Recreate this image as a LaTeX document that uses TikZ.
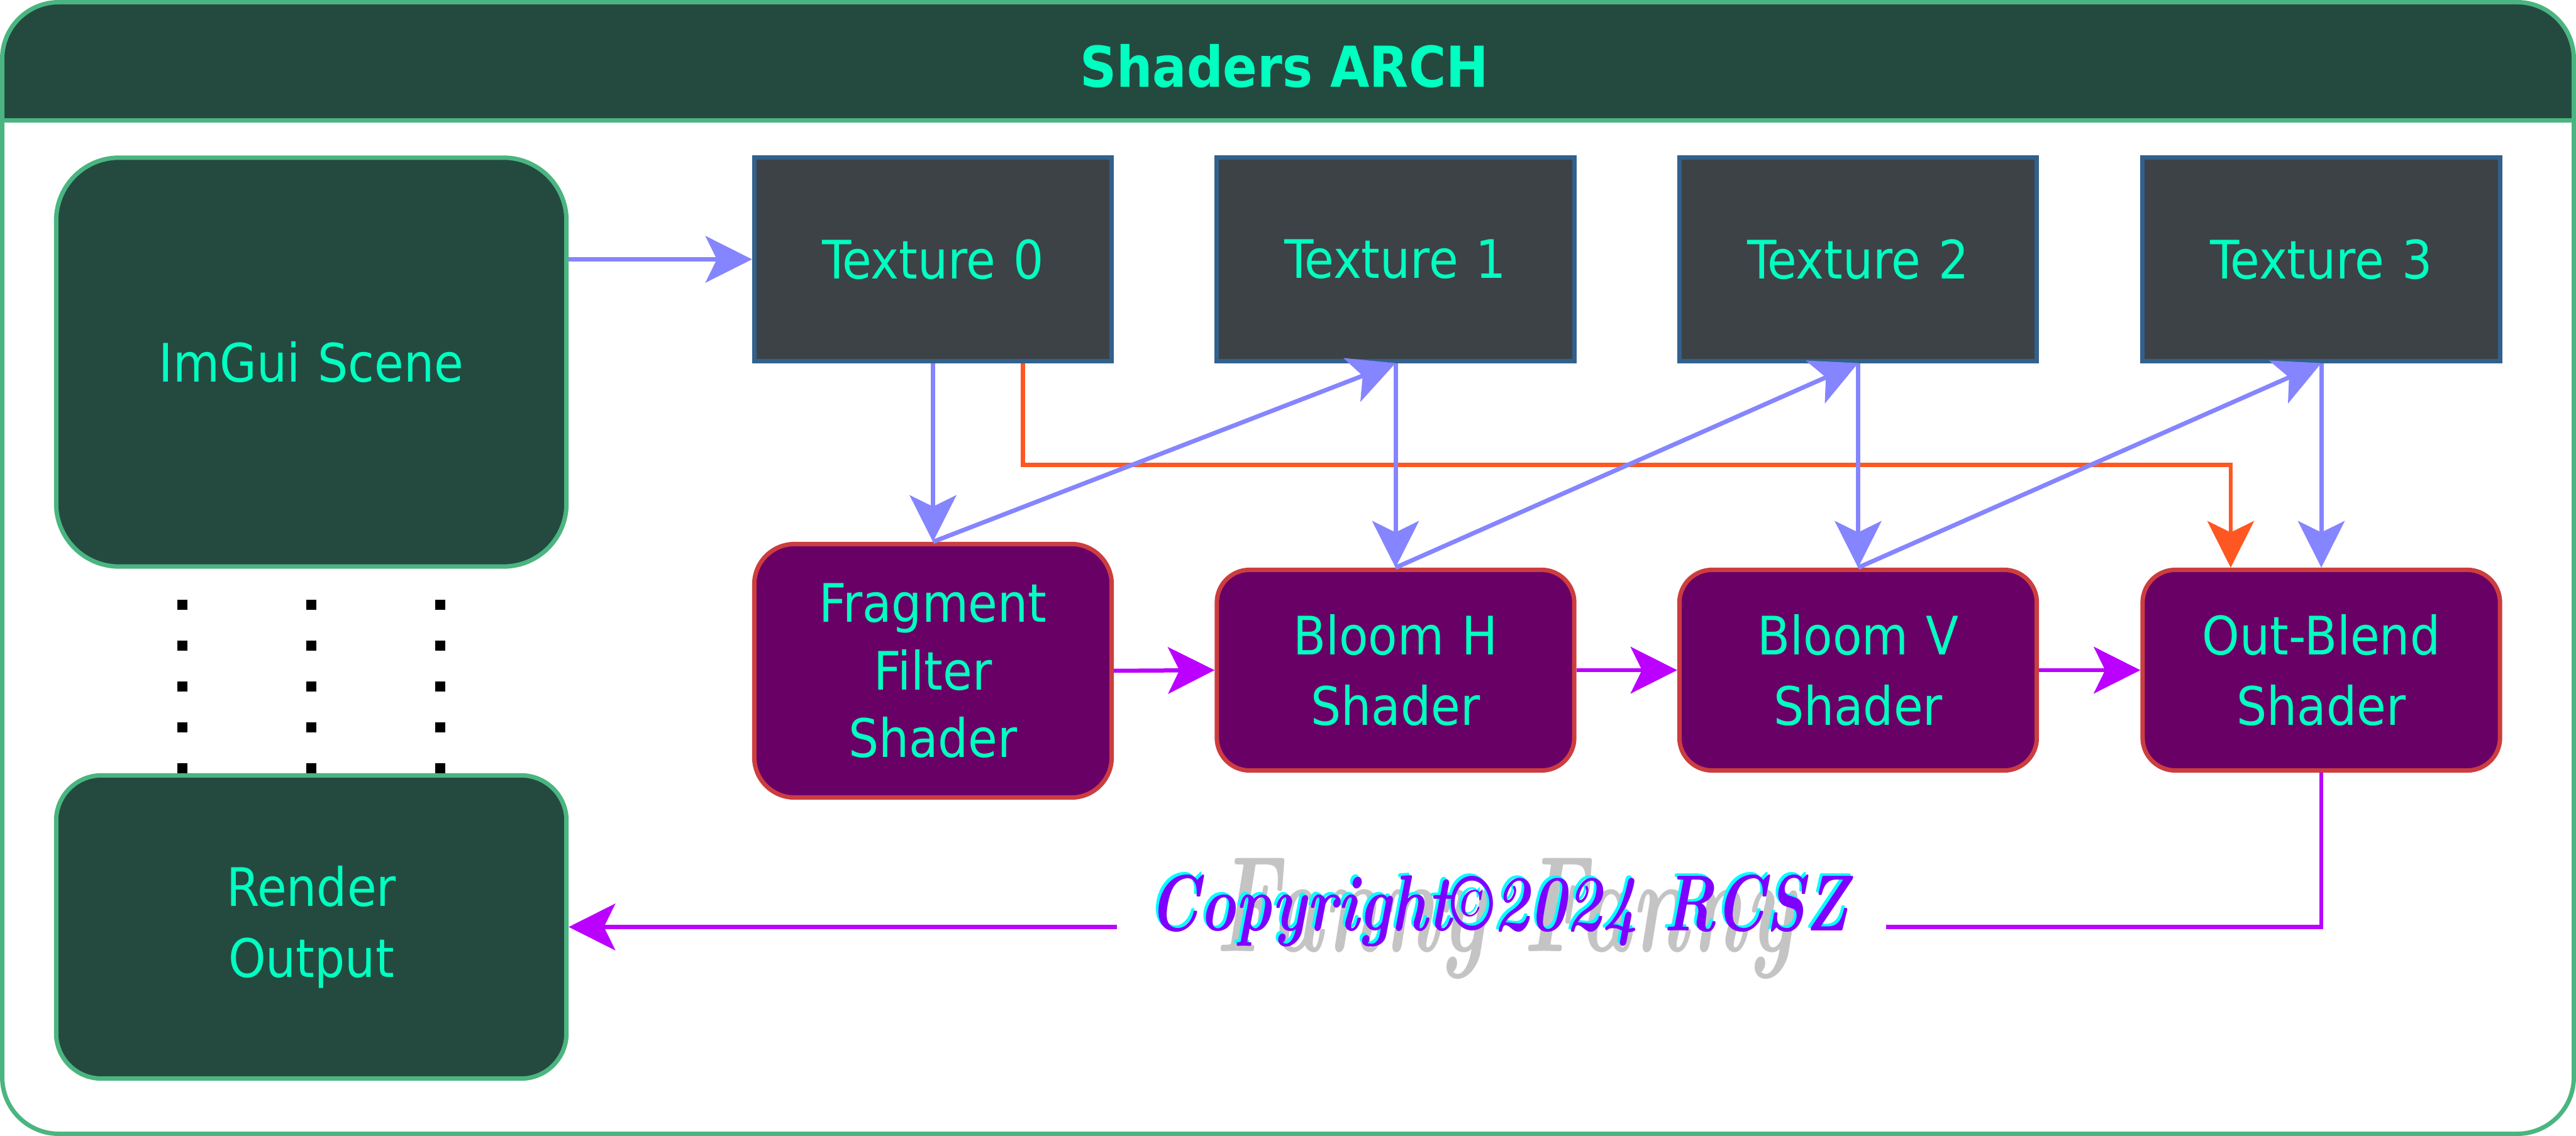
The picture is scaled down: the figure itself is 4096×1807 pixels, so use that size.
\documentclass[tikz,border=0pt]{standalone}
\usepackage{fontspec}
\usepackage{tikz}
\usetikzlibrary{arrows.meta,positioning}
\newfontfamily\condfont{DejaVu Sans Condensed}
\definecolor{framegreen}{HTML}{4AB580}
\definecolor{headgreen}{HTML}{244A40}
\definecolor{labelcyan}{HTML}{00FFC0}
\definecolor{texfill}{HTML}{3D4247}
\definecolor{texborder}{HTML}{31618C}
\definecolor{shaderfill}{HTML}{690066}
\definecolor{shaderborder}{HTML}{CC3D3F}
\definecolor{flowblue}{HTML}{8585FF}
\definecolor{flowred}{HTML}{FF5722}
\definecolor{flowpurple}{HTML}{BB00FF}
\definecolor{crviolet}{HTML}{7F00FF}
\definecolor{crcyan}{HTML}{00FFFF}
\definecolor{wmgray}{HTML}{C4C4C4}
\newcommand{\labelfont}{\condfont\fontsize{24}{32}\selectfont}
\tikzstyle{title} = [text=labelcyan, font=\condfont\bfseries\fontsize{25.5}{30}\selectfont]
\tikzstyle{scenebox} = [draw=framegreen, fill=headgreen, line width=0.07cm, text=labelcyan, text centered, text width=7cm, minimum width=8.11cm, font=\labelfont]
\tikzstyle{texbox} = [draw=texborder, fill=texfill, line width=0.07cm, text=labelcyan, text centered, text width=5.2cm, minimum width=5.68cm, minimum height=3.23cm, font=\labelfont]
\tikzstyle{shaderbox} = [draw=shaderborder, fill=shaderfill, line width=0.07cm, text=labelcyan, text centered, text width=5.2cm, minimum width=5.68cm, minimum height=3.19cm, rounded corners=0.52cm, font=\labelfont]
\tikzstyle{arrow} = [draw, line width=0.07cm, color=flowblue, -{Stealth[length=0.74cm,width=0.74cm,inset=0.18cm]}]
\tikzstyle{redarrow} = [draw, line width=0.065cm, color=flowred, -{Stealth[length=0.74cm,width=0.74cm,inset=0.18cm]}]
\tikzstyle{purplearrow} = [draw, line width=0.065cm, color=flowpurple, -{Stealth[length=0.74cm,width=0.74cm,inset=0.18cm]}]
\tikzstyle{purpleline} = [draw, line width=0.065cm, color=flowpurple]
\tikzstyle{dots} = [draw, line width=0.16cm, color=black, dash pattern=on 0.16cm off 0.49cm]
\tikzstyle{crtext} = [inner sep=0pt, xscale=0.77, font=\fontsize{36}{40}\selectfont\bfseries\itshape]
\tikzstyle{watermark} = [inner sep=0pt, xscale=0.64, text=wmgray, font=\fontsize{62}{70}\selectfont\bfseries\itshape]
\newcommand{\scenebox}[3]{node (g#1) [scenebox,#2] {#3}}
\newcommand{\texbox}[2]{node (t#1) [texbox] {#2}}
\newcommand{\shaderbox}[3]{node (s#1) [shaderbox,#2] {#3}}

\begin{document}
\begin{tikzpicture}[x=0.01cm,y=-0.01cm]
\useasboundingbox (0,0) rectangle (4096,1807);
\begin{scope}
\clip [rounded corners=0.9cm] (3.5,3.5) rectangle (4092.5,1803.5);
\fill [headgreen] (0,0) rectangle (4096,192);
\end{scope}
\draw [framegreen, line width=0.07cm] (3.5,192) -- (4092.5,192);
\draw [framegreen, line width=0.07cm, rounded corners=0.9cm] (3.5,3.5) rectangle (4092.5,1803.5);
\path (2042,139) node (hd) [title, anchor=base] {Shaders ARCH};

\path (495,576) \scenebox{1}{minimum height=6.5cm, rounded corners=1cm}{ImGui Scene};
\path (g1)+(0,898.5) \scenebox{2}{minimum height=4.82cm, rounded corners=0.72cm}{Render\\Output};
\foreach \dx in {-2.05,0,2.05}
  \path [dots] ([xshift=\dx cm]g2.north) -- ([xshift=\dx cm,yshift=-0.1cm]g1.south);

\path (g1)+(988.5,-163.5) \texbox{0}{Texture 0};
\path (t0)+(735.5,0) \texbox{1}{Texture 1};
\path (t1)+(735.5,0) \texbox{2}{Texture 2};
\path (t2)+(736.5,0) \texbox{3}{Texture 3};
\path [arrow] (g1.east |- t0.west) -- (t0.west);

\path (t0)+(0,654.5) \shaderbox{0}{minimum height=4.03cm, rounded corners=0.64cm, font=\condfont\fontsize{24}{30.5}\selectfont}{Fragment\\Filter\\Shader};
\path (t1)+(0,653.5) \shaderbox{1}{}{Bloom H\\Shader};
\path (t2)+(0,653.5) \shaderbox{2}{}{Bloom V\\Shader};
\path (t3)+(0,653.5) \shaderbox{3}{}{Out-Blend\\Shader};

\path [redarrow] ([xshift=1.43cm]t0.south) -- ++(0,162) -| ([xshift=-1.44cm]s3.north);
\path [arrow] (t0.south) -- (s0.north);
\path [arrow] (s0.north) -- (t1.south);
\path [arrow] (t1.south) -- (s1.north);
\path [arrow] (s1.north) -- (t2.south);
\path [arrow] (t2.south) -- (s2.north);
\path [arrow] (s2.north) -- (t3.south);
\path [arrow] (t3.south) -- (s3.north);

\path [purplearrow] (s0.east) -- (s1.west);
\path [purplearrow] (s1.east) -- (s2.west);
\path [purplearrow] (s2.east) -- (s3.west);

% copyright gap on the return line
\path (g2)+(1281,0) coordinate (cl);
\path (g2)+(2504,0) coordinate (ce);
\path [purpleline] (s3.south) |- (ce);
\path [purplearrow] (cl) -- (g2.east);
\path (g2)+(1898,38.5) node (wm) [watermark, anchor=base] {Fanny Fanny};
\path (g2)+(1884,1.5) node (cs) [crtext, anchor=base, text=crcyan] {Copyright©2024 RCSZ};
\path (g2)+(1888,5.5) node (cr) [crtext, anchor=base, text=crviolet] {Copyright©2024 RCSZ};
\end{tikzpicture}
\end{document}
